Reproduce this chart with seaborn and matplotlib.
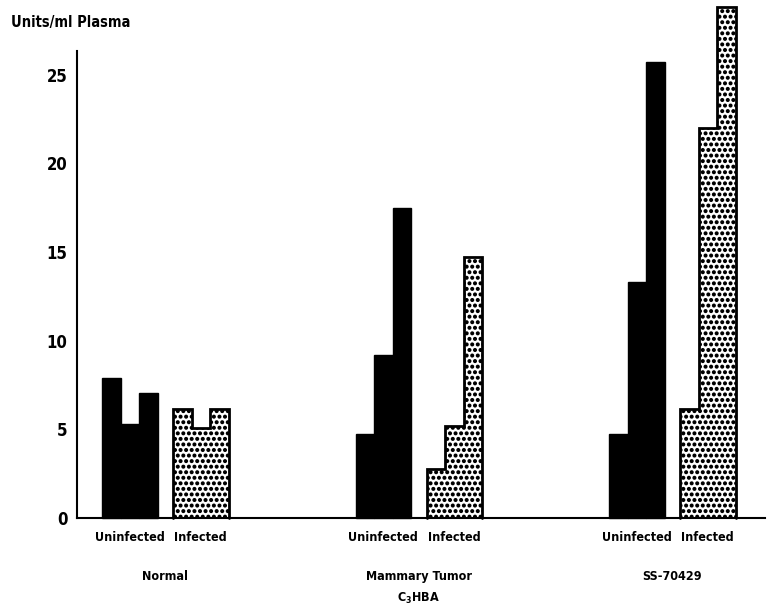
import numpy as np
import pandas as pd
import matplotlib
matplotlib.use("Agg")
import matplotlib.pyplot as plt
import matplotlib.hatch as mhatch
import seaborn as sns

# ---- data -----------------------------------------------------------
groups = ["Normal", "Mammary Tumor", "SS-70429"]
statuses = ["Uninfected", "Infected"]
uninfected_vals = [[7.9, 5.3, 7.05], [4.75, 9.2, 17.5], [4.75, 13.3, 25.7]]
infected_vals = [[6.15, 5.1, 6.15], [2.75, 5.2, 14.7], [6.15, 22.0, 28.8]]
y_ticks = [0, 5, 10, 15, 20, 25]

# ---- layout (x in pixel-like units) ---------------------------------
bar_w = 18.5
pair_gap = 15.5
first_start = 102.0
group_step = 253.5

rows = []
for gi, g in enumerate(groups):
    gstart = first_start + gi * group_step
    for si, (status, vals) in enumerate(zip(statuses, [uninfected_vals[gi], infected_vals[gi]])):
        sstart = gstart + si * (3 * bar_w + pair_gap)
        for ri, v in enumerate(vals):
            rows.append({"group": g, "status": status, "rep": ri,
                         "pos": sstart + (ri + 0.5) * bar_w, "value": v})
df = pd.DataFrame(rows)

sns.set_style("white")
fam = ["DejaVu Sans"]
plt.rcParams["font.family"] = fam
plt.rcParams["font.stretch"] = "condensed"
plt.rcParams["font.weight"] = "bold"
plt.rcParams["text.color"] = "black"
# stippled fill: slightly larger dots, stroked so that they render solid
mhatch.SmallFilledCircles.size = 0.18
plt.rcParams["hatch.linewidth"] = 1.45
plt.rcParams["hatch.color"] = "black"
plt.rcParams["mathtext.fontset"] = "custom"
plt.rcParams["mathtext.rm"] = "DejaVu Sans:bold"
plt.rcParams["mathtext.it"] = "DejaVu Sans:bold"

W, H = 769, 614
fig = plt.figure(figsize=(W / 100, H / 100), dpi=100)
ax_left, ax_right, ax_bottom = 77, 765, 518
ax = fig.add_axes([ax_left / W, (H - ax_bottom) / H, (ax_right - ax_left) / W, ax_bottom / H])

sns.barplot(data=df[df.status == "Uninfected"], x="pos", y="value", native_scale=True,
            width=1.0, color="black", edgecolor="black", linewidth=1.0,
            errorbar=None, ax=ax, saturation=1)
sns.barplot(data=df[df.status == "Infected"], x="pos", y="value", native_scale=True,
            width=1.0, color="white", edgecolor="black", linewidth=0, hatch="...",
            errorbar=None, ax=ax, saturation=1)
for p in ax.patches:
    p.set_clip_on(False)

# outline each infected triplet as one stepped shape
for gi in range(len(groups)):
    sub = df[(df.group == groups[gi]) & (df.status == "Infected")].sort_values("pos")
    xs, ys = [], []
    left_edge = sub.pos.iloc[0] - bar_w / 2
    xs.append(left_edge); ys.append(0)
    for pos, val in zip(sub.pos, sub.value):
        xs += [pos - bar_w / 2, pos + bar_w / 2]
        ys += [val, val]
    xs.append(sub.pos.iloc[-1] + bar_w / 2); ys.append(0)
    ax.plot(xs, ys, color="black", lw=2.0, clip_on=False, solid_joinstyle="miter")

ax.set_xlim(ax_left, ax_right)
ax.set_ylim(0, 29.2)
ax.set_xlabel("")
ax.set_ylabel("")
ax.set_xticks([])
ax.set_yticks(y_ticks)
ax.set_yticklabels([str(t) for t in y_ticks], fontsize=12, fontweight="bold")
ax.tick_params(axis="y", direction="in", length=10, width=1.5, pad=7, colors="black")
for s in ["top", "right"]:
    ax.spines[s].set_visible(False)
ax.spines["left"].set_bounds(0, 26.3)
for s in ["left", "bottom"]:
    ax.spines[s].set_linewidth(1.5)
    ax.spines[s].set_color("black")

# category labels under the bars
for gi, g in enumerate(groups):
    gstart = first_start + gi * group_step
    for si, status in enumerate(statuses):
        sstart = gstart + si * (3 * bar_w + pair_gap)
        ax.text(sstart + 1.5 * bar_w, -1.1, status, ha="center", va="center",
                fontsize=9, fontweight="bold", clip_on=False)
    center = gstart + (6 * bar_w + pair_gap) / 2
    ax.text(center, -3.3, g, ha="center", va="center",
            fontsize=9, fontweight="bold", clip_on=False)
    if g == "Mammary Tumor":
        ax.text(center, -4.55, "C$_3$HBA", ha="center", va="center",
                fontsize=9, fontweight="bold", clip_on=False)

fig.text(11 / W, 1 - 22 / H, "Units/ml Plasma", ha="left", va="center",
         fontsize=10.5, fontweight="bold")

fig.savefig("out.png", dpi=100, facecolor="white")
